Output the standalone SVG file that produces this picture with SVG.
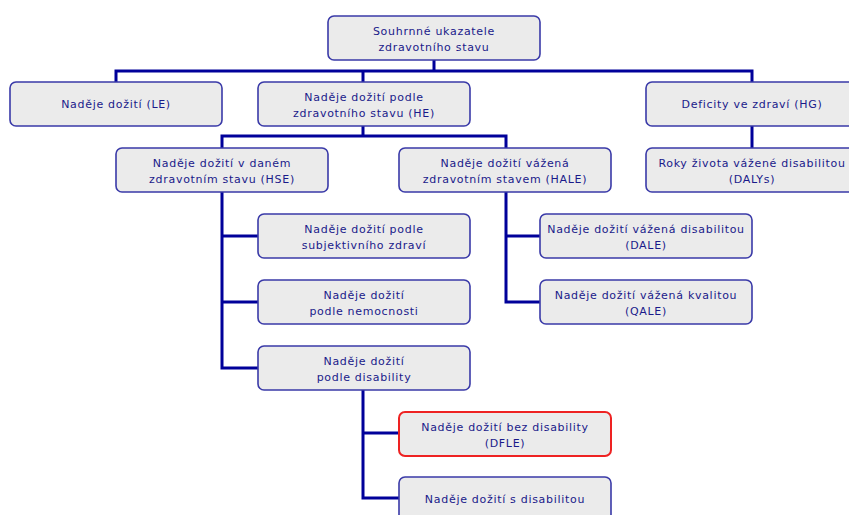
<svg xmlns="http://www.w3.org/2000/svg" width="849" height="515" viewBox="0 0 849 515">
<style>
.box{fill:#ebebeb;stroke:#3a3aa8;stroke-width:1.6}
.red{fill:#ebebeb;stroke:#ee2222;stroke-width:2}
.t{font-family:"DejaVu Sans",Verdana,sans-serif;font-size:11px;letter-spacing:0.7px;fill:#1a1a8a;text-anchor:middle}
.c{fill:none;stroke:#00009a;stroke-width:3;stroke-linejoin:miter}
</style>
<rect width="849" height="515" fill="#ffffff"/>
<g id="connectors">
<path class="c" d="M434 60V71M116 82V71H752V82M363 71V82"/>
<path class="c" d="M363 126V136M222 148V136H506V148"/>
<path class="c" d="M752 126V148"/>
<path class="c" d="M222 192V368H258M222 236H258M222 302H258"/>
<path class="c" d="M506 192V302H540M506 236H540"/>
<path class="c" d="M363 390V498H399M363 433H399"/>
</g>
<g id="n_root"><rect class="box" x="328" y="16" width="212" height="44" rx="6"/><text class="t" x="434" y="35">Souhrnné ukazatele</text><text class="t" x="434" y="51">zdravotního stavu</text></g>
<g id="n_le"><rect class="box" x="10" y="82" width="212" height="44" rx="6"/><text class="t" x="116" y="108">Naděje dožití (LE)</text></g>
<g id="n_he"><rect class="box" x="258" y="82" width="212" height="44" rx="6"/><text class="t" x="364" y="101">Naděje dožití podle</text><text class="t" x="364" y="117">zdravotního stavu (HE)</text></g>
<g id="n_hg"><rect class="box" x="646" y="82" width="212" height="44" rx="6"/><text class="t" x="752" y="108">Deficity ve zdraví (HG)</text></g>
<g id="n_hse"><rect class="box" x="116" y="148" width="212" height="44" rx="6"/><text class="t" x="222" y="167">Naděje dožití v daném</text><text class="t" x="222" y="183">zdravotním stavu (HSE)</text></g>
<g id="n_hale"><rect class="box" x="399" y="148" width="212" height="44" rx="6"/><text class="t" x="505" y="167">Naděje dožití vážená</text><text class="t" x="505" y="183">zdravotním stavem (HALE)</text></g>
<g id="n_dalys"><rect class="box" x="646" y="148" width="212" height="44" rx="6"/><text class="t" x="752" y="167">Roky života vážené disabilitou</text><text class="t" x="752" y="183">(DALYs)</text></g>
<g id="n_subj"><rect class="box" x="258" y="214" width="212" height="44" rx="6"/><text class="t" x="364" y="233">Naděje dožití podle</text><text class="t" x="364" y="249">subjektivního zdraví</text></g>
<g id="n_nem"><rect class="box" x="258" y="280" width="212" height="44" rx="6"/><text class="t" x="364" y="299">Naděje dožití</text><text class="t" x="364" y="315">podle nemocnosti</text></g>
<g id="n_dis"><rect class="box" x="258" y="346" width="212" height="44" rx="6"/><text class="t" x="364" y="365">Naděje dožití</text><text class="t" x="364" y="381">podle disability</text></g>
<g id="n_dale"><rect class="box" x="540" y="214" width="212" height="44" rx="6"/><text class="t" x="646" y="233">Naděje dožití vážená disabilitou</text><text class="t" x="646" y="249">(DALE)</text></g>
<g id="n_qale"><rect class="box" x="540" y="280" width="212" height="44" rx="6"/><text class="t" x="646" y="299">Naděje dožití vážená kvalitou</text><text class="t" x="646" y="315">(QALE)</text></g>
<g id="n_dfle"><rect class="red" x="399" y="412" width="212" height="44" rx="6"/><text class="t" x="505" y="431">Naděje dožití bez disability</text><text class="t" x="505" y="447">(DFLE)</text></g>
<g id="n_dle"><rect class="box" x="399" y="477" width="212" height="44" rx="6"/><text class="t" x="505" y="503">Naděje dožití s disabilitou</text></g>
</svg>
